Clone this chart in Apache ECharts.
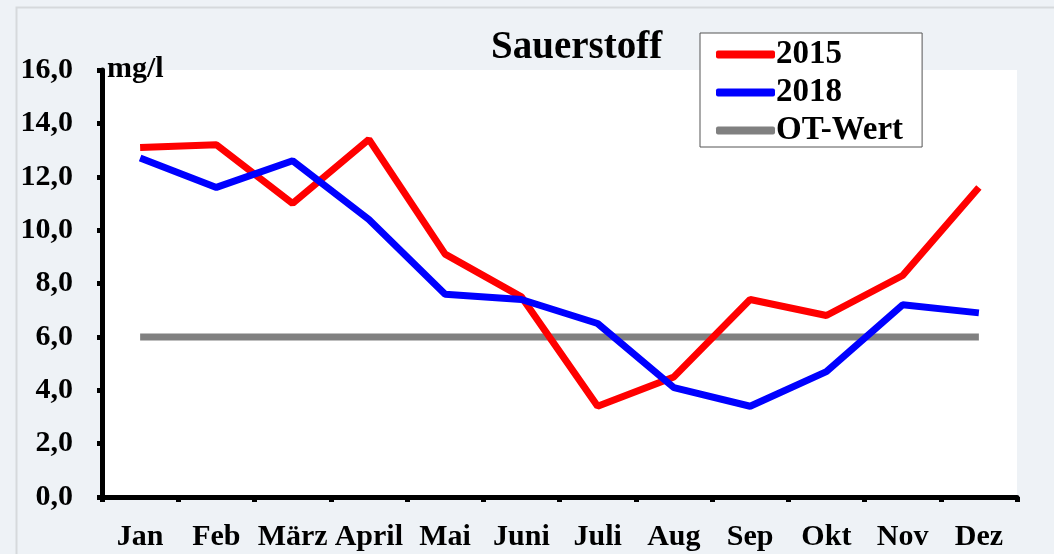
<!DOCTYPE html>
<html><head><meta charset="utf-8">
<script src="https://cdn.jsdelivr.net/npm/echarts@6/dist/echarts.min.js"></script>
<style>html,body{margin:0;padding:0;background:#fff}#c{width:1054px;height:554px}</style>
</head><body><div id="c"></div>
<script>
const categories = ['Jan','Feb','März','April','Mai','Juni','Juli','Aug','Sep','Okt','Nov','Dez'];
const values2015 = [13.1, 13.2, 11.0, 13.4, 9.1, 7.5, 3.4, 4.5, 7.4, 6.8, 8.3, 11.6];
const values2018 = [12.7, 11.6, 12.6, 10.4, 7.6, 7.4, 6.5, 4.1, 3.4, 4.7, 7.2, 6.9];
const valuesOT = [6, 6, 6, 6, 6, 6, 6, 6, 6, 6, 6, 6];
const yTicks = [0, 2, 4, 6, 8, 10, 12, 14, 16];

const F = '"Liberation Serif","Times New Roman",serif';
const chart = echarts.init(document.getElementById('c'));
chart.setOption({
  backgroundColor: '#EEF2F6',
  animation: false,
  graphic: [{
    type: 'rect', left: 14, top: 5, shape: {width: 1100, height: 600},
    style: {fill: 'none', stroke: '#D6D9DC', lineWidth: 2}, z: 0
  }],
  title: [
    {text: 'Sauerstoff', left: 491, top: 28, padding: 0, textStyle: {fontFamily: F, fontWeight: 'bold', fontSize: 39, color: '#000'}},
    {text: 'mg/l', left: 107, top: 54, padding: 0, textStyle: {fontFamily: F, fontWeight: 'bold', fontSize: 30, color: '#000'}, z: 10}
  ],
  legend: {
    orient: 'vertical', left: 700, top: 33,
    backgroundColor: '#fff', borderColor: '#555', borderWidth: 1,
    padding: [5, 19, 0, 16], itemGap: 5,
    itemWidth: 59, itemHeight: 8, icon: 'roundRect',
    textStyle: {fontFamily: F, fontWeight: 'bold', fontSize: 33, lineHeight: 33, color: '#000', padding: [0,0,0,-4]},
    data: ['2015', '2018', 'OT-Wert']
  },
  grid: {left: 102, right: 37, top: 70, bottom: 57, show: true, backgroundColor: '#fff', borderWidth: 0},
  xAxis: {
    type: 'category', data: categories, boundaryGap: true,
    axisLine: {lineStyle: {color: '#000', width: 5}},
    axisTick: {show: true, length: 5, lineStyle: {color: '#000', width: 5}, alignWithLabel: false},
    axisLabel: {interval: 0, fontFamily: F, fontWeight: 'bold', fontSize: 30, color: '#000', margin: 25}
  },
  yAxis: {
    type: 'value', min: 0, max: 16, interval: 2,
    axisLine: {show: true, lineStyle: {color: '#000', width: 5}},
    axisTick: {show: true, length: 5, lineStyle: {color: '#000', width: 5}},
    splitLine: {show: false},
    axisLabel: {fontFamily: F, fontWeight: 'bold', fontSize: 30, color: '#000', margin: 29,
      formatter: v => yTicks.includes(v) ? v.toFixed(1).replace('.', ',') : ''}
  },
  series: [
    {name: '2015', type: 'line', data: values2015, showSymbol: false, symbol: 'none', itemStyle: {color: '#FF0000'}, lineStyle: {color: '#FF0000', width: 7}, z: 3},
    {name: '2018', type: 'line', data: values2018, showSymbol: false, symbol: 'none', itemStyle: {color: '#0000FF'}, lineStyle: {color: '#0000FF', width: 7}, z: 4},
    {name: 'OT-Wert', type: 'line', data: valuesOT, showSymbol: false, symbol: 'none', itemStyle: {color: '#808080'}, lineStyle: {color: '#808080', width: 7}, z: 2}
  ]
});
</script></body></html>
